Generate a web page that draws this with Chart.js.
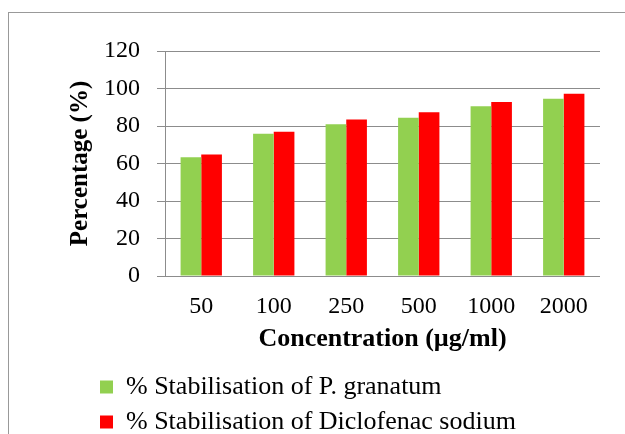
<!DOCTYPE html>
<html>
<head>
<meta charset="utf-8">
<script src="https://cdn.jsdelivr.net/npm/chart.js@4"></script>
<style>
  html, body { margin: 0; padding: 0; background: #fff; overflow: hidden; }
  #wrap { position: relative; width: 625px; height: 434px; }
  #marco { position: absolute; left: 8px; top: 12px; width: 700px; height: 500px;
           border-left: 1px solid #999; border-top: 1px solid #999; }
  #grafico { position: absolute; left: 0; top: 0; }
</style>
</head>
<body>
<div id="wrap">
  <div id="marco"></div>
  <canvas id="grafico" width="625" height="434"></canvas>
</div>
<script>
// Datos
const concentraciones = ['50', '100', '250', '500', '1000', '2000'];
const granatum = [63.4, 75.9, 81.0, 84.4, 90.6, 94.6];
const diclofenaco = [64.8, 76.9, 83.5, 87.4, 92.8, 97.2];
const ticksY = [0, 20, 40, 60, 80, 100, 120];

const fuente = "'Liberation Serif', 'Times New Roman', serif";
const gris = '#8c8c8c';

// mueve la leyenda a su sitio (a la izquierda del área del gráfico)
const moverLeyenda = {
    id: 'moverLeyenda',
    beforeDraw(chart) {
        const lg = chart.legend;
        lg.left = 91;
        lg.top = 365;
        lg.bottom = 445;
    }
};

const ctx = document.getElementById('grafico').getContext('2d');
const grafico = new Chart(ctx, {
    type: 'bar',
    data: {
        labels: concentraciones,
        datasets: [{
            label: '% Stabilisation of P. granatum',
            data: granatum,
            backgroundColor: '#92d050', // verde
            borderWidth: 0,
            categoryPercentage: 0.57,
            barPercentage: 1.0
        }, {
            label: '% Stabilisation of Diclofenac sodium',
            data: diclofenaco,
            backgroundColor: '#ff0000', // rojo
            borderWidth: 0,
            categoryPercentage: 0.57,
            barPercentage: 1.0
        }]
    },
    options: {
        responsive: false,
        animation: false,
        devicePixelRatio: 1,
        layout: { padding: { top: 51, right: 25, left: 0, bottom: 0 } },
        plugins: {
            tooltip: { enabled: false },
            legend: {
                position: 'bottom',
                align: 'start',
                labels: {
                    color: '#000',
                    font: { family: fuente, size: 26 },
                    boxWidth: 13,
                    boxHeight: 13,
                    padding: 9
                }
            }
        },
        scales: {
            x: {
                afterFit(scale) { scale.height = 78; },
                grid: { display: false, drawTicks: false },
                border: { display: false },
                ticks: {
                    color: '#000',
                    font: { family: fuente, size: 24 },
                    padding: 16,
                    maxRotation: 0
                },
                title: {
                    display: true,
                    text: 'Concentration (µg/ml)',
                    color: '#000',
                    font: { family: fuente, size: 26, weight: 'bold', lineHeight: 1.1 },
                    padding: { top: 0, bottom: 0 }
                }
            },
            y: {
                afterFit(scale) { scale.width = 165; },
                min: 0,
                max: 120,
                afterBuildTicks(scale) { scale.ticks = ticksY.map(v => ({ value: v })); },
                grid: { color: gris, lineWidth: 1, tickLength: 8 },
                border: { display: true, color: gris, width: 1 },
                ticks: {
                    color: '#000',
                    font: { family: fuente, size: 24 },
                    padding: 17
                },
                title: {
                    display: true,
                    text: 'Percentage (%)',
                    color: '#000',
                    font: { family: fuente, size: 25, weight: 'bold' },
                    padding: { top: 66, bottom: 0 }
                }
            }
        }
    },
    plugins: [moverLeyenda]
});
</script>
</body>
</html>
